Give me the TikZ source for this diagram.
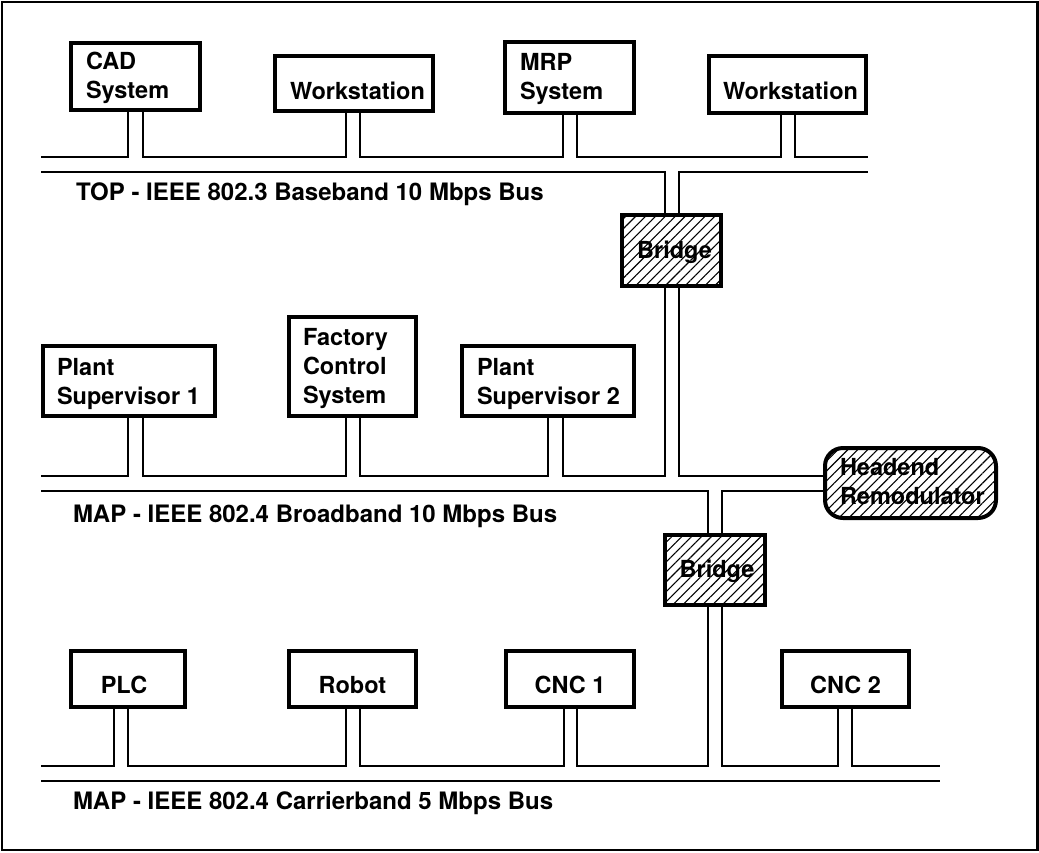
\documentclass[tikz,border=0pt]{standalone}
\usepackage{fontspec}
\setmainfont{TeX Gyre Heros}
\usetikzlibrary{patterns.meta}
\begin{document}
\begin{tikzpicture}[x=1pt,y=-1pt,
  box/.style={draw, line width=4pt, inner sep=0pt, outer sep=0pt},
  hatchbox/.style={box, pattern={Lines[angle=45,distance=7pt,line width=1.1pt]}},
  txt/.style={font=\fontsize{23.5}{29}\selectfont\bfseries, inner sep=0pt, outer sep=0pt, align=left},
  lbl/.style={font=\fontsize{24}{29}\selectfont\bfseries, inner sep=0pt, outer sep=0pt, anchor=base west},
  bus/.style={line width=2pt}]
\useasboundingbox (0,0) rectangle (1039,852);
\draw[line width=2.3pt] (2,2) rectangle (1037.5,850.3);

% ---------- boxes ----------
\node[box, minimum width=129pt, minimum height=67pt] (cad) at (135.5,76.5) {};
\node[box, minimum width=158pt, minimum height=55pt] (ws1) at (354,83.5) {};
\node[box, minimum width=129pt, minimum height=71pt] (mrp) at (569.5,77.5) {};
\node[box, minimum width=157pt, minimum height=57pt] (ws2) at (787.5,84.5) {};

\node[box, minimum width=172pt, minimum height=70pt] (ps1) at (129,381) {};
\node[box, minimum width=127pt, minimum height=99pt] (fcs) at (352.5,366.5) {};
\node[box, minimum width=172pt, minimum height=70pt] (ps2) at (548,381) {};

\node[box, minimum width=114pt, minimum height=56pt] (plc) at (128,679) {};
\node[box, minimum width=127pt, minimum height=56pt] (rob) at (352.5,679) {};
\node[box, minimum width=128pt, minimum height=56pt] (cnc1) at (570,679) {};
\node[box, minimum width=127pt, minimum height=56pt] (cnc2) at (845.5,679) {};

\node[hatchbox, minimum width=99pt, minimum height=71pt] (b1) at (671.5,250.5) {};
\node[hatchbox, minimum width=100pt, minimum height=70pt] (b2) at (715,570) {};
\node[hatchbox, rounded corners=18pt, minimum width=171pt, minimum height=70pt] (he) at (910.5,483) {};

% ---------- texts ----------
\node[txt, anchor=north west] (cadT) at (86,49) {\rule{0pt}{20pt}CAD\\System};
\node[txt, anchor=base west] (ws1T) at (290,99) {Workstation};
\node[txt, anchor=north west] (mrpT) at (520,50) {\rule{0pt}{20pt}MRP\\System};
\node[txt, anchor=base west] (ws2T) at (723,99) {Workstation};

\node[txt, anchor=north west] (ps1T) at (57,355) {\rule{0pt}{20pt}Plant\\Supervisor 1};
\node[txt, anchor=north west] (fcsT) at (303,325) {\rule{0pt}{20pt}Factory\\Control\\System};
\node[txt, anchor=north west] (ps2T) at (477,355) {\rule{0pt}{20pt}Plant\\Supervisor 2};

\node[txt, anchor=base] (plcT) at (124,693) {PLC};
\node[txt, anchor=base] (robT) at (352.5,693) {Robot};
\node[txt, anchor=base] (cnc1T) at (570,693) {CNC 1};
\node[txt, anchor=base] (cnc2T) at (845.5,693) {CNC 2};

\node[txt, anchor=base] (b1T) at (674.5,258) {Bridge};
\node[txt, anchor=base] (b2T) at (717,577) {Bridge};
\node[txt, anchor=north west] (heT) at (840,455) {\rule{0pt}{20pt}Headend\\Remodulator};

\node[lbl] (topL) at (76,200) {TOP - IEEE 802.3 Baseband 10 Mbps Bus};
\node[lbl] (mapL) at (73,522.5) {MAP - IEEE 802.4 Broadband 10 Mbps Bus};
\node[lbl] (carL) at (73,809) {MAP - IEEE 802.4 Carrierband 5 Mbps Bus};

% ---------- bus ends ----------
\coordinate (tuW) at (41,157);   \coordinate (tuE) at (868,157);
\coordinate (tlW) at (41,172);   \coordinate (tlE) at (868,172);
\coordinate (muW) at (41,475.5);
\coordinate (mlW) at (41,490.5);
\coordinate (buW) at (41,766);   \coordinate (buE) at (940,766);
\coordinate (blW) at (41,781);   \coordinate (blE) at (940,781);

% ---------- stub x positions ----------
\coordinate (cadA) at (128,0);  \coordinate (cadB) at (143,0);
\coordinate (ws1A) at (346,0);  \coordinate (ws1B) at (359.5,0);
\coordinate (mrpA) at (563,0);  \coordinate (mrpB) at (577,0);
\coordinate (ws2A) at (781,0);  \coordinate (ws2B) at (795,0);
\coordinate (b1A) at (665,0);   \coordinate (b1B) at (679,0);
\coordinate (ps1A) at (128,0);  \coordinate (ps1B) at (143,0);
\coordinate (fcsA) at (346,0);  \coordinate (fcsB) at (360,0);
\coordinate (ps2A) at (548,0);  \coordinate (ps2B) at (563,0);
\coordinate (b2A) at (708,0);   \coordinate (b2B) at (722,0);
\coordinate (plcA) at (114,0);  \coordinate (plcB) at (128,0);
\coordinate (robA) at (346,0);  \coordinate (robB) at (359.5,0);
\coordinate (cnc1A) at (564,0); \coordinate (cnc1B) at (577,0);
\coordinate (cnc2A) at (838,0); \coordinate (cnc2B) at (852,0);

% ---------- TOP bus ----------
\draw[bus] (tuW) -- (cadA |- tuW) -- (cad.south -| cadA);
\draw[bus] (cad.south -| cadB) -- (cadB |- tuW) -- (ws1A |- tuW) -- (ws1.south -| ws1A);
\draw[bus] (ws1.south -| ws1B) -- (ws1B |- tuW) -- (mrpA |- tuW) -- (mrp.south -| mrpA);
\draw[bus] (mrp.south -| mrpB) -- (mrpB |- tuW) -- (ws2A |- tuW) -- (ws2.south -| ws2A);
\draw[bus] (ws2.south -| ws2B) -- (ws2B |- tuW) -- (tuE);
\draw[bus] (tlW) -- (b1A |- tlW) -- (b1.north -| b1A);
\draw[bus] (b1.north -| b1B) -- (b1B |- tlW) -- (tlE);

% ---------- MAP broadband bus ----------
\draw[bus] (b1.south -| b1A) -- (b1A |- muW) -- (ps2B |- muW) -- (ps2.south -| ps2B);
\draw[bus] (ps2.south -| ps2A) -- (ps2A |- muW) -- (fcsB |- muW) -- (fcs.south -| fcsB);
\draw[bus] (fcs.south -| fcsA) -- (fcsA |- muW) -- (ps1B |- muW) -- (ps1.south -| ps1B);
\draw[bus] (ps1.south -| ps1A) -- (ps1A |- muW) -- (muW);
\draw[bus] (b1.south -| b1B) -- (b1B |- muW) -- (he.west |- muW);
\draw[bus] (mlW) -- (b2A |- mlW) -- (b2.north -| b2A);
\draw[bus] (b2.north -| b2B) -- (b2B |- mlW) -- (he.west |- mlW);

% ---------- MAP carrierband bus ----------
\draw[bus] (buW) -- (plcA |- buW) -- (plc.south -| plcA);
\draw[bus] (plc.south -| plcB) -- (plcB |- buW) -- (robA |- buW) -- (rob.south -| robA);
\draw[bus] (rob.south -| robB) -- (robB |- buW) -- (cnc1A |- buW) -- (cnc1.south -| cnc1A);
\draw[bus] (cnc1.south -| cnc1B) -- (cnc1B |- buW) -- (b2A |- buW) -- (b2.south -| b2A);
\draw[bus] (b2.south -| b2B) -- (b2B |- buW) -- (cnc2A |- buW) -- (cnc2.south -| cnc2A);
\draw[bus] (cnc2.south -| cnc2B) -- (cnc2B |- buW) -- (buE);
\draw[bus] (blW) -- (blE);
\end{tikzpicture}
\end{document}
